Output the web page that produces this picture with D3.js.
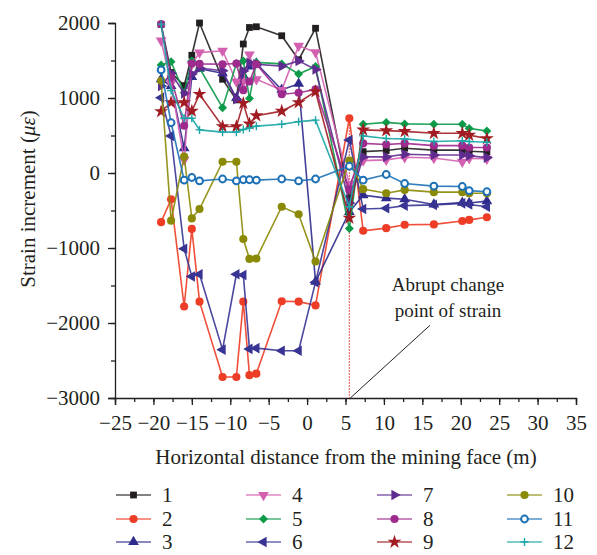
<!DOCTYPE html>
<html lang="en">
<head>
<meta charset="UTF-8">
<title>Strain increment</title>
<script src="https://cdnjs.cloudflare.com/ajax/libs/d3/7.8.5/d3.min.js"></script>
<style>
  body { margin: 0; background: #fff; }
  svg text { font-family: "Liberation Serif", "DejaVu Serif", serif; fill: #231f20; }
  .axis path, .axis line { stroke: #231f20; stroke-width: 1.3; }
</style>
</head>
<body>
<div id="chart"></div>
<script>
// measuring positions (m) relative to the mining face
const distances = [-19, -17.7, -16, -15, -14, -11, -9.2, -8.3, -7.5, -6.6, -3.3, -1.1, 1.1, 5.5, 7.3, 10.3, 12.7, 16.5, 20.2, 21.1, 23.4];

// strain increment per gauge (με)
const gauge1  = [1980, 1340, 1165, 1570, 2000, 1250, 975, 1720, 1940, 1950, 1830, 1510, 1930, -340, 285, 300, 330, 305, 305, 290, 280];
const gauge2  = [-655, -350, -1780, -745, -1715, -2720, -2720, -1715, -2695, -2675, -1710, -1715, -1765, 730, -770, -735, -690, -685, -640, -625, -590];
const gauge3  = [1250, 1160, 330, 1280, 1390, 1330, 1000, 1300, 1420, 1460, 1110, 1190, -1450, -520, -295, -335, -350, -420, -395, -400, -375];
const gauge4  = [1765, 1195, 175, 1450, 1605, 1630, 1220, 1215, 1580, 1250, 1105, 1695, 1610, -150, 165, 175, 210, 200, 150, 195, 190];
const gauge5  = [1440, 1485, 1070, 1495, 1400, 870, 1460, 1495, 995, 1475, 1455, 1320, 1420, -740, 650, 675, 655, 650, 650, 595, 560];
const gauge6  = [1005, 495, -1010, -1380, -1350, -2355, -1350, -1360, -2345, -2335, -2370, -2370, -1455, 440, -480, -470, -435, -425, -405, -420, -450];
const gauge7  = [1160, 1330, 1060, 1320, 1400, 1365, 985, 1360, 1470, 1450, 1425, 1495, 1380, -400, 215, 215, 250, 240, 240, 230, 205];
const gauge8  = [1985, 1275, 630, 1460, 1455, 1450, 1460, 1105, 1220, 1450, 1050, 1070, 1115, -220, 395, 380, 395, 365, 365, 340, 340];
const gauge9  = [820, 940, 940, 825, 1050, 620, 620, 930, 655, 765, 825, 940, 1085, -600, 575, 565, 555, 530, 530, 505, 460];
const gauge10 = [1230, -635, 220, -605, -480, 150, 150, -880, -1145, -1140, -450, -550, -1180, 165, -215, -270, -225, -255, -255, -270, -270];
const gauge11 = [1375, 670, -95, -60, -105, -80, -105, -90, -90, -95, -80, -105, -80, 90, -95, -20, -140, -175, -180, -235, -250];
const gauge12 = [1985, 1100, 730, 730, 575, 545, 545, 580, 600, 625, 650, 685, 705, -450, 495, 460, 455, 420, 430, 420, 410];

const seriesNames = ['1', '2', '3', '4', '5', '6', '7', '8', '9', '10', '11', '12'];
const xTicks = [-25, -20, -15, -10, -5, 0, 5, 10, 15, 20, 25, 30, 35];
const yTicks = [-3000, -2000, -1000, 0, 1000, 2000];
const changePoint = 5.5;

const allGauges = [gauge1, gauge2, gauge3, gauge4, gauge5, gauge6, gauge7, gauge8, gauge9, gauge10, gauge11, gauge12];
const colors = ['#231f20', '#ee3d26', '#2f2b8c', '#d35fb1', '#0c9a49', '#383493', '#5e2c8f', '#9e2a8e', '#a11c22', '#8a8a06', '#1c70b6', '#1aa6a6'];
const markers = ['square', 'circle', 'triUp', 'triDown', 'diamond', 'triLeft', 'triRight', 'circle', 'star', 'circle', 'ring', 'plus'];

const W = 597, H = 555;
const margin = { left: 115, top: 23 };
const plotW = 461, plotH = 375;
const fontSize = '21px';

const svg = d3.select('#chart').append('svg')
  .attr('width', W).attr('height', H);

const x = d3.scaleLinear().domain([-25, 35]).range([margin.left, margin.left + plotW]);
const y = d3.scaleLinear().domain([-3000, 2000]).range([margin.top + plotH, margin.top]);

// minor ticks first, then the labelled axes
svg.append('g')
  .attr('class', 'axis')
  .attr('transform', `translate(0,${margin.top + plotH})`)
  .call(d3.axisBottom(x).tickValues(d3.range(-25, 35.1, 2.5)).tickSize(4).tickFormat(''))
  .call(g => g.select('.domain').remove());
svg.append('g')
  .attr('class', 'axis')
  .attr('transform', `translate(${margin.left},0)`)
  .call(d3.axisLeft(y).tickValues(d3.range(-3000, 2001, 500)).tickSize(4).tickFormat(''))
  .call(g => g.select('.domain').remove());

const xAxis = svg.append('g')
  .attr('class', 'axis')
  .attr('transform', `translate(0,${margin.top + plotH})`)
  .call(d3.axisBottom(x).tickValues(xTicks).tickSizeOuter(0).tickSize(7).tickPadding(10).tickFormat(d3.format('d')));
xAxis.selectAll('text').style('font-size', fontSize);

const yAxis = svg.append('g')
  .attr('class', 'axis')
  .attr('transform', `translate(${margin.left},0)`)
  .call(d3.axisLeft(y).tickValues(yTicks).tickSizeOuter(0).tickSize(7).tickPadding(8).tickFormat(d3.format('d')));
yAxis.selectAll('text').style('font-size', fontSize);

// axis titles
svg.append('text')
  .attr('x', 346)
  .attr('y', 464)
  .attr('text-anchor', 'middle')
  .style('font-size', fontSize)
  .text('Horizontal distance from the mining face (m)');

const yTitle = svg.append('text')
  .attr('transform', 'translate(35,199) rotate(-90)')
  .attr('text-anchor', 'middle')
  .style('font-size', fontSize);
yTitle.append('tspan').text('Strain increment (');
yTitle.append('tspan').style('font-style', 'italic').text('με');
yTitle.append('tspan').text(')');

// marker drawing
function drawMarker(sel, type, color) {
  const sym = (t, size, rot) => sel.append('path')
    .attr('d', d3.symbol().type(t).size(size)())
    .attr('transform', rot ? `rotate(${rot})` : null)
    .attr('fill', color);
  switch (type) {
    case 'square': sym(d3.symbolSquare, 46); break;
    case 'circle': sym(d3.symbolCircle, 52); break;
    case 'triUp': sym(d3.symbolTriangle, 50); break;
    case 'triDown': sym(d3.symbolTriangle, 50, 180); break;
    case 'triLeft': sym(d3.symbolTriangle, 50, -90); break;
    case 'triRight': sym(d3.symbolTriangle, 50, 90); break;
    case 'diamond': sym(d3.symbolSquare, 40, 45); break;
    case 'star': sym(d3.symbolStar, 60); break;
    case 'ring':
      sel.append('circle').attr('r', 3.4).attr('fill', '#fff').attr('stroke', color).attr('stroke-width', 2);
      break;
    case 'plus':
      sel.append('path').attr('d', 'M-4,0H4M0,-4V4').attr('stroke', color).attr('stroke-width', 1.4);
      break;
  }
}

const line = d3.line()
  .defined(d => d.v != null)
  .x(d => x(d.x))
  .y(d => y(d.v));

// red dotted marker of the abrupt change point
svg.append('line')
  .attr('x1', x(changePoint)).attr('x2', x(changePoint))
  .attr('y1', y(d3.max(allGauges, g => g[13]))).attr('y2', y(-3000))
  .attr('stroke', '#e8413a')
  .attr('stroke-width', 1.2)
  .attr('stroke-dasharray', '1.5,1.5');

allGauges.forEach((vals, i) => {
  const pts = distances.map((d, k) => ({ x: d, v: vals[k] }));
  const g = svg.append('g');
  g.append('path')
    .datum(pts)
    .attr('d', line)
    .attr('fill', 'none')
    .attr('stroke', colors[i])
    .attr('stroke-width', 1.6)
    .attr('stroke-opacity', 0.9);
  g.selectAll('g.pt')
    .data(pts.filter(p => p.v != null))
    .enter().append('g')
    .attr('class', 'pt')
    .attr('transform', p => `translate(${x(p.x)},${y(p.v)})`)
    .each(function () { drawMarker(d3.select(this), markers[i], colors[i]); });
});

// annotation
svg.append('line')
  .attr('x1', x(changePoint) + 1).attr('y1', y(-3000))
  .attr('x2', x(16)).attr('y2', y(-2030))
  .attr('stroke', '#231f20').attr('stroke-width', 1);
svg.append('text')
  .attr('x', 448).attr('y', 291)
  .attr('text-anchor', 'middle')
  .style('font-size', '19px')
  .text('Abrupt change');
svg.append('text')
  .attr('x', 448).attr('y', 317)
  .attr('text-anchor', 'middle')
  .style('font-size', '19px')
  .text('point of strain');

// legend, 4 columns x 3 rows
const legendCols = [116, 246, 377, 507];
const legendRows = [495, 519, 542];
seriesNames.forEach((name, i) => {
  const col = Math.floor(i / 3), row = i % 3;
  const lg = svg.append('g').attr('transform', `translate(${legendCols[col]},${legendRows[row]})`);
  lg.append('line')
    .attr('x1', 0).attr('x2', 35)
    .attr('stroke', colors[i]).attr('stroke-width', 1.6).attr('stroke-opacity', 0.75);
  drawMarker(lg.append('g').attr('transform', 'translate(17.5,0)'), markers[i], colors[i]);
  lg.append('text')
    .attr('x', 46).attr('y', 7)
    .style('font-size', fontSize)
    .text(name);
});
</script>
</body>
</html>
